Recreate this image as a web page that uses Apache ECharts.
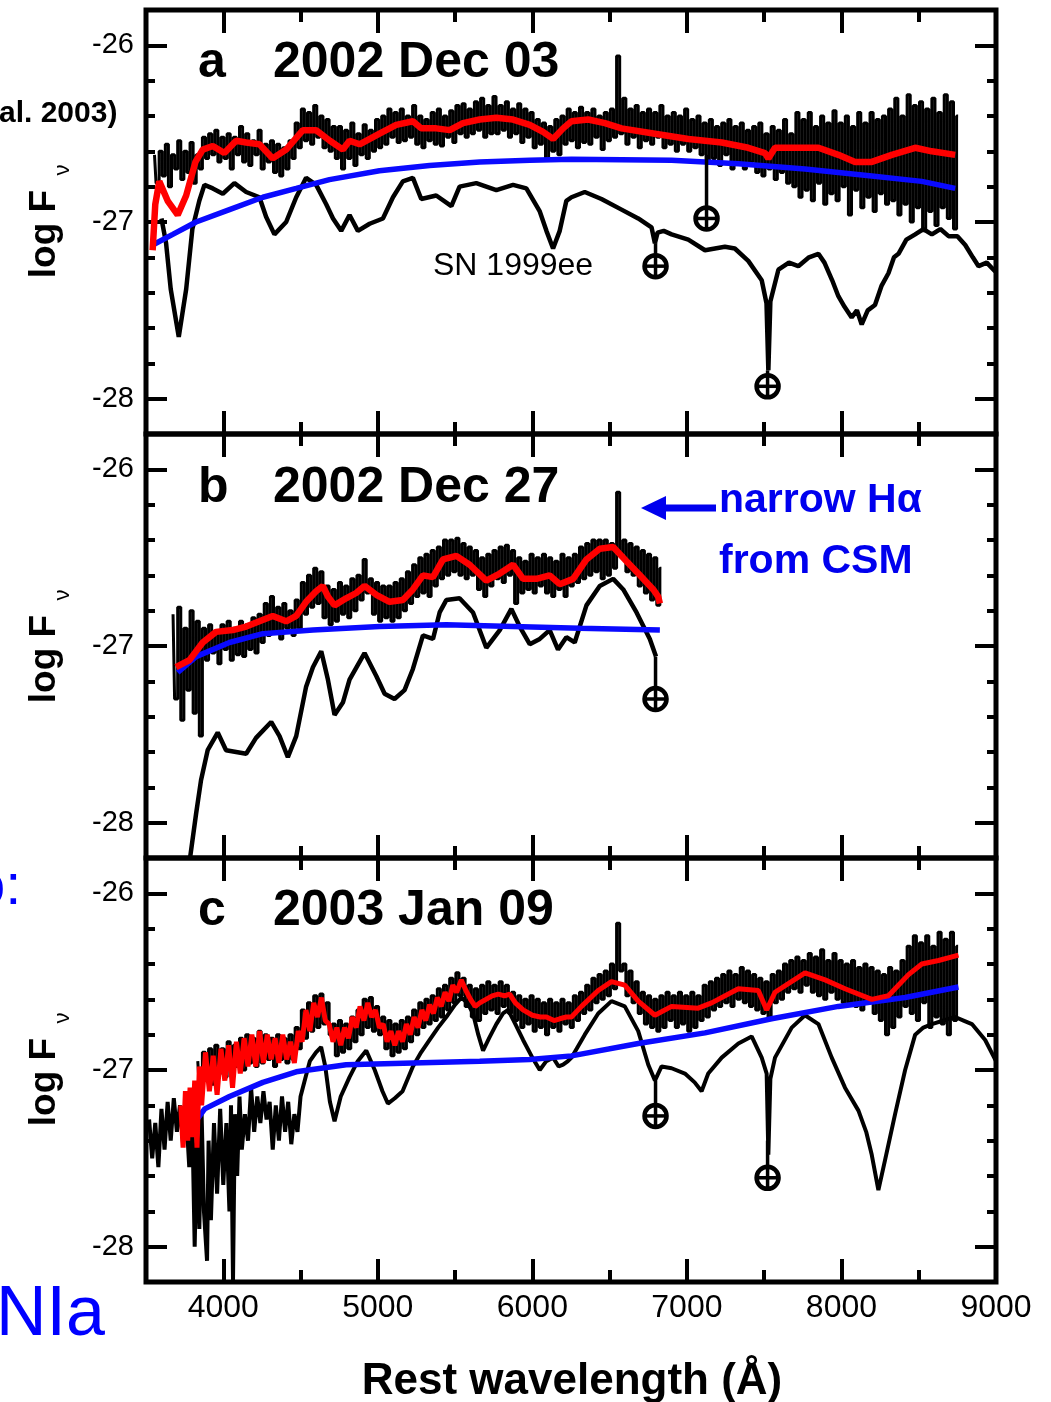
<!DOCTYPE html>
<html><head><meta charset="utf-8">
<script src="https://cdn.jsdelivr.net/npm/echarts@6/dist/echarts.min.js"></script>
<style>html,body{margin:0;padding:0;background:#fff}#c{width:1051px;height:1402px}</style>
</head><body><div id="c"></div>
<script>
// ---------- tick values ----------
const xMajor = [4000, 5000, 6000, 7000, 8000, 9000];
const xMinor = [4500, 5500, 6500, 7500, 8500];
const yMajor = [-26, -27, -28];
const yMinor = [-26.2, -26.4, -26.6, -26.8, -27.2, -27.4, -27.6, -27.8];

// ---------- panel a : 2002 Dec 03 ----------
const obsA_start = 3555, obsA_step = 20;
const obsA = [
 -26.62,-26.78,-26.60,-26.74,-26.56,-26.80,-26.62,-26.70,-26.54,-26.76,
 -26.60,-26.72,-26.55,-26.78,-26.62,-26.70,-26.52,-26.64,-26.50,-26.62,
 -26.48,-26.66,-26.52,-26.64,-26.50,-26.70,-26.52,-26.62,-26.46,-26.66,
 -26.50,-26.68,-26.54,-26.62,-26.48,-26.70,-26.56,-26.66,-26.54,-26.72,
 -26.56,-26.74,-26.58,-26.70,-26.54,-26.64,-26.44,-26.58,-26.36,-26.54,
 -26.38,-26.56,-26.34,-26.52,-26.40,-26.58,-26.42,-26.60,-26.46,-26.64,
 -26.46,-26.70,-26.48,-26.64,-26.44,-26.68,-26.50,-26.62,-26.45,-26.64,
 -26.48,-26.60,-26.42,-26.58,-26.40,-26.56,-26.36,-26.52,-26.38,-26.55,
 -26.36,-26.54,-26.40,-26.52,-26.34,-26.56,-26.40,-26.58,-26.42,-26.54,
 -26.38,-26.56,-26.36,-26.57,-26.40,-26.52,-26.37,-26.55,-26.34,-26.50,
 -26.33,-26.52,-26.36,-26.50,-26.32,-26.48,-26.30,-26.52,-26.34,-26.50,
 -26.29,-26.50,-26.34,-26.48,-26.32,-26.52,-26.36,-26.50,-26.33,-26.55,
 -26.36,-26.52,-26.38,-26.58,-26.42,-26.56,-26.44,-26.64,-26.46,-26.60,
 -26.42,-26.62,-26.40,-26.56,-26.36,-26.54,-26.38,-26.58,-26.35,-26.55,
 -26.38,-26.56,-26.36,-26.52,-26.40,-26.59,-26.38,-26.54,-26.36,-26.52,
 -26.06,-26.50,-26.30,-26.56,-26.36,-26.52,-26.34,-26.58,-26.38,-26.54,
 -26.36,-26.56,-26.38,-26.52,-26.34,-26.58,-26.40,-26.56,-26.38,-26.60,
 -26.40,-26.56,-26.36,-26.60,-26.42,-26.58,-26.40,-26.62,-26.44,-26.66,
 -26.42,-26.64,-26.46,-26.68,-26.44,-26.62,-26.42,-26.70,-26.46,-26.66,
 -26.44,-26.70,-26.48,-26.66,-26.46,-26.72,-26.44,-26.74,-26.50,-26.70,
 -26.46,-26.76,-26.48,-26.72,-26.42,-26.78,-26.50,-26.80,-26.38,-26.86,
 -26.42,-26.82,-26.38,-26.88,-26.46,-26.78,-26.40,-26.90,-26.44,-26.84,
 -26.37,-26.88,-26.44,-26.80,-26.40,-26.96,-26.46,-26.82,-26.38,-26.92,
 -26.44,-26.86,-26.38,-26.94,-26.42,-26.84,-26.40,-26.90,-26.36,-26.88,
 -26.30,-26.96,-26.40,-26.90,-26.28,-27.00,-26.34,-26.92,-26.32,-27.05,
 -26.36,-26.94,-26.30,-27.02,-26.38,-26.92,-26.28,-26.98,-26.32,-27.04,
 -26.40];
const redA = [[3543,-27.16],[3560,-26.90],[3586,-26.77],[3640,-26.88],[3705,-26.96],[3760,-26.85],[3820,-26.66],
 [3867,-26.59],[3932,-26.57],[4007,-26.61],[4083,-26.54],[4148,-26.55],[4234,-26.56],[4320,-26.64],[4407,-26.59],
 [4515,-26.48],[4600,-26.48],[4690,-26.54],[4774,-26.59],[4817,-26.54],[4882,-26.56],[5011,-26.50],[5119,-26.45],
 [5227,-26.43],[5281,-26.47],[5378,-26.47],[5465,-26.48],[5551,-26.44],[5659,-26.42],[5767,-26.41],[5875,-26.42],
 [5983,-26.45],[6069,-26.49],[6134,-26.53],[6199,-26.47],[6253,-26.43],[6361,-26.42],[6469,-26.44],[6577,-26.47],
 [6793,-26.50],[7009,-26.53],[7225,-26.55],[7397,-26.58],[7505,-26.61],[7527,-26.64],[7570,-26.58],[7656,-26.58],
 [7851,-26.58],[7980,-26.62],[8088,-26.66],[8196,-26.66],[8326,-26.62],[8477,-26.58],[8585,-26.60],[8736,-26.62]];
const blueA = [[3543,-27.13],[3673,-27.07],[3824,-27.00],[4040,-26.93],[4256,-26.86],[4472,-26.81],[4687,-26.76],
 [5011,-26.71],[5335,-26.68],[5659,-26.66],[5983,-26.65],[6253,-26.645],[6901,-26.65],[7333,-26.67],[7764,-26.70],
 [8196,-26.74],[8520,-26.77],[8736,-26.81]];
const tmplA = [[3600,-26.98],[3630,-27.12],[3660,-27.38],[3712,-27.65],[3760,-27.38],[3800,-27.04],[3845,-26.88],
 [3878,-26.79],[3932,-26.81],[3997,-26.84],[4072,-26.78],[4148,-26.83],[4234,-26.86],[4277,-26.97],[4331,-27.07],
 [4407,-27.00],[4472,-26.86],[4536,-26.75],[4601,-26.79],[4666,-26.90],[4710,-26.98],[4763,-27.05],[4817,-26.96],
 [4871,-27.05],[4947,-27.01],[5033,-26.98],[5098,-26.86],[5162,-26.77],[5227,-26.75],[5281,-26.87],[5378,-26.85],
 [5476,-26.91],[5529,-26.80],[5637,-26.78],[5767,-26.82],[5875,-26.79],[5961,-26.81],[6048,-26.94],[6091,-27.05],
 [6134,-27.15],[6177,-27.05],[6220,-26.88],[6253,-26.86],[6339,-26.83],[6447,-26.87],[6577,-26.93],[6685,-26.98],
 [6771,-27.03],[6793,-27.12],[6810,-27.06],[6850,-27.05],[6901,-27.07],[7009,-27.10],[7117,-27.16],[7246,-27.14],
 [7310,-27.15],[7397,-27.22],[7484,-27.33],[7515,-27.46],[7527,-27.84],[7540,-27.45],[7592,-27.27],[7660,-27.23],
 [7721,-27.25],[7790,-27.20],[7851,-27.18],[7890,-27.23],[7940,-27.33],[7980,-27.42],[8020,-27.48],[8066,-27.54],
 [8100,-27.50],[8131,-27.58],[8170,-27.50],[8217,-27.47],[8260,-27.36],[8304,-27.29],[8340,-27.20],[8369,-27.18],
 [8420,-27.10],[8477,-27.07],[8530,-27.04],[8585,-27.07],[8640,-27.04],[8693,-27.08],[8750,-27.08],[8801,-27.13],
 [8850,-27.20],[8887,-27.25],[8940,-27.23],[8995,-27.28]];
const tellA = [[7127,-26.62,-26.98],[6797,-27.12,-27.25],[7522,-27.84,-27.93]];

// ---------- panel b : 2002 Dec 27 ----------
const obsB_start = 3675, obsB_step = 20;
const obsB = [
 -26.82,-27.30,-26.78,-27.42,-26.90,-27.25,-26.80,-27.38,-26.86,-27.51,
 -26.90,-27.08,-26.88,-27.04,-26.92,-27.10,-26.88,-27.02,-26.86,-27.08,
 -26.90,-27.05,-26.86,-27.06,-26.88,-27.02,-26.84,-27.04,-26.82,-26.98,
 -26.76,-26.94,-26.72,-26.92,-26.78,-26.96,-26.76,-26.90,-26.80,-26.94,
 -26.74,-26.90,-26.64,-26.82,-26.60,-26.78,-26.56,-26.76,-26.58,-26.84,
 -26.66,-26.88,-26.68,-26.86,-26.64,-26.82,-26.66,-26.84,-26.62,-26.80,
 -26.60,-26.74,-26.51,-26.70,-26.62,-26.82,-26.64,-26.86,-26.66,-26.84,
 -26.66,-26.86,-26.64,-26.84,-26.62,-26.80,-26.58,-26.76,-26.54,-26.72,
 -26.50,-26.70,-26.48,-26.72,-26.46,-26.66,-26.44,-26.62,-26.40,-26.60,
 -26.40,-26.58,-26.39,-26.60,-26.42,-26.62,-26.44,-26.60,-26.46,-26.68,
 -26.50,-26.72,-26.48,-26.66,-26.46,-26.62,-26.44,-26.64,-26.43,-26.60,
 -26.46,-26.76,-26.50,-26.70,-26.52,-26.68,-26.48,-26.70,-26.50,-26.66,
 -26.48,-26.70,-26.50,-26.72,-26.52,-26.68,-26.48,-26.72,-26.50,-26.66,
 -26.48,-26.64,-26.44,-26.62,-26.42,-26.60,-26.40,-26.58,-26.40,-26.62,
 -26.40,-26.60,-26.42,-26.56,-26.13,-26.48,-26.40,-26.58,-26.42,-26.60,
 -26.44,-26.66,-26.46,-26.70,-26.48,-26.74,-26.50,-26.77,-26.56];
const redB = [[3694,-27.12],[3781,-27.08],[3867,-26.98],[3953,-26.92],[4061,-26.91],[4148,-26.89],[4234,-26.86],
 [4320,-26.83],[4407,-26.86],[4472,-26.83],[4536,-26.75],[4601,-26.69],[4644,-26.66],[4677,-26.72],[4720,-26.77],
 [4795,-26.73],[4860,-26.70],[4914,-26.66],[4990,-26.71],[5076,-26.75],[5162,-26.74],[5227,-26.68],[5292,-26.60],
 [5357,-26.61],[5422,-26.51],[5508,-26.49],[5594,-26.54],[5702,-26.63],[5789,-26.59],[5875,-26.54],[5940,-26.62],
 [6026,-26.62],[6112,-26.60],[6177,-26.65],[6264,-26.62],[6350,-26.51],[6436,-26.45],[6523,-26.44],[6609,-26.52],
 [6696,-26.60],[6782,-26.68],[6814,-26.72],[6825,-26.76]];
const blueB = [[3705,-27.15],[3824,-27.06],[4040,-26.98],[4256,-26.93],[4580,-26.91],[5011,-26.89],[5443,-26.88],
 [5875,-26.89],[6307,-26.90],[6825,-26.91]];
const tmplB = [[3785,-28.20],[3824,-27.95],[3856,-27.76],[3899,-27.59],[3964,-27.49],[4018,-27.59],[4083,-27.60],
 [4148,-27.61],[4212,-27.52],[4310,-27.43],[4364,-27.51],[4418,-27.63],[4472,-27.51],[4536,-27.23],[4580,-27.12],
 [4634,-27.03],[4677,-27.19],[4720,-27.39],[4774,-27.32],[4817,-27.19],[4914,-27.04],[4990,-27.17],[5044,-27.27],
 [5108,-27.30],[5173,-27.25],[5227,-27.13],[5292,-26.94],[5357,-26.96],[5400,-26.81],[5443,-26.74],[5529,-26.73],
 [5616,-26.81],[5702,-27.01],[5789,-26.91],[5864,-26.79],[5918,-26.89],[5983,-26.99],[6048,-26.96],[6112,-26.91],
 [6166,-27.02],[6220,-26.95],[6274,-26.98],[6350,-26.77],[6436,-26.66],[6523,-26.62],[6588,-26.68],[6674,-26.81],
 [6760,-26.96],[6800,-27.06]];
const tellB = [[6797,-27.06,-27.30]];

// ---------- panel c : 2003 Jan 09 ----------
const obsC_start = 3835, obsC_step = 20;
const obsC = [
 -26.95,-27.10,-26.90,-27.06,-26.88,-27.08,-26.86,-27.02,-26.88,-27.04,
 -26.84,-27.00,-26.86,-26.98,-26.82,-27.00,-26.80,-26.96,-26.82,-26.98,
 -26.78,-26.96,-26.80,-26.94,-26.82,-26.98,-26.80,-26.94,-26.82,-26.96,
 -26.80,-26.94,-26.76,-26.88,-26.66,-26.82,-26.62,-26.78,-26.58,-26.76,
 -26.57,-26.74,-26.62,-26.80,-26.74,-26.92,-26.72,-26.90,-26.74,-26.88,
 -26.70,-26.84,-26.66,-26.80,-26.60,-26.76,-26.59,-26.78,-26.64,-26.80,
 -26.70,-26.88,-26.72,-26.92,-26.74,-26.90,-26.72,-26.88,-26.70,-26.84,
 -26.66,-26.80,-26.62,-26.76,-26.60,-26.74,-26.58,-26.72,-26.54,-26.70,
 -26.52,-26.66,-26.48,-26.62,-26.45,-26.58,-26.48,-26.64,-26.52,-26.70,
 -26.54,-26.72,-26.52,-26.68,-26.50,-26.66,-26.52,-26.68,-26.50,-26.64,
 -26.52,-26.68,-26.56,-26.72,-26.58,-26.76,-26.60,-26.74,-26.58,-26.78,
 -26.60,-26.76,-26.62,-26.80,-26.60,-26.76,-26.62,-26.78,-26.60,-26.74,
 -26.62,-26.76,-26.58,-26.72,-26.56,-26.68,-26.52,-26.66,-26.48,-26.62,
 -26.46,-26.60,-26.44,-26.58,-26.40,-26.54,-26.17,-26.44,-26.40,-26.58,
 -26.44,-26.62,-26.50,-26.68,-26.56,-26.74,-26.58,-26.76,-26.60,-26.78,
 -26.58,-26.76,-26.56,-26.72,-26.58,-26.76,-26.56,-26.74,-26.58,-26.78,
 -26.56,-26.76,-26.58,-26.72,-26.52,-26.70,-26.50,-26.66,-26.48,-26.64,
 -26.46,-26.62,-26.44,-26.64,-26.46,-26.60,-26.42,-26.62,-26.44,-26.64,
 -26.46,-26.66,-26.48,-26.68,-26.50,-26.70,-26.46,-26.62,-26.44,-26.60,
 -26.40,-26.56,-26.38,-26.54,-26.36,-26.56,-26.38,-26.52,-26.34,-26.56,
 -26.36,-26.58,-26.32,-26.60,-26.38,-26.56,-26.34,-26.60,-26.38,-26.62,
 -26.40,-26.62,-26.38,-26.64,-26.42,-26.66,-26.40,-26.62,-26.42,-26.68,
 -26.44,-26.72,-26.46,-26.80,-26.42,-26.76,-26.44,-26.70,-26.38,-26.64,
 -26.30,-26.68,-26.24,-26.72,-26.28,-26.62,-26.24,-26.76,-26.30,-26.70,
 -26.22,-26.74,-26.26,-26.80,-26.22,-26.72,-26.30];
const redC = [[3725,-27.20],[3740,-27.44],[3755,-27.12],[3770,-27.40],[3785,-27.10],[3800,-27.38],[3815,-27.06],
 [3830,-27.44],[3845,-26.98],[3860,-27.20],[3885,-26.90],[3910,-27.12],[3935,-26.92],[3960,-27.14],[3985,-26.88],
 [4010,-27.06],[4035,-26.86],[4060,-27.10],[4085,-26.84],[4110,-27.02],[4135,-26.82],[4160,-26.98],[4185,-26.80],
 [4210,-26.98],[4235,-26.78],[4260,-26.96],[4285,-26.80],[4310,-26.94],[4335,-26.82],[4360,-26.96],[4385,-26.80],
 [4410,-26.94],[4435,-26.84],[4460,-26.96],[4485,-26.78],[4510,-26.84],[4535,-26.66],[4560,-26.78],[4585,-26.62],
 [4610,-26.70],[4635,-26.59],[4660,-26.72],[4685,-26.74],[4710,-26.84],[4735,-26.76],[4760,-26.86],[4785,-26.76],
 [4810,-26.82],[4835,-26.70],[4860,-26.76],[4885,-26.64],[4910,-26.72],[4935,-26.62],[4960,-26.70],[4985,-26.66],
 [5010,-26.76],[5035,-26.74],[5060,-26.84],[5085,-26.78],[5110,-26.86],[5135,-26.78],[5160,-26.84],[5185,-26.74],
 [5210,-26.80],[5235,-26.70],[5260,-26.76],[5285,-26.66],[5310,-26.72],[5335,-26.63],[5360,-26.68],[5385,-26.59],
 [5410,-26.64],[5435,-26.56],[5460,-26.61],[5485,-26.52],[5510,-26.56],[5540,-26.49],[5570,-26.55],[5600,-26.60],
 [5630,-26.64],[5660,-26.62],[5700,-26.60],[5740,-26.58],[5780,-26.57],[5820,-26.58],[5853,-26.57],[5890,-26.62],
 [5940,-26.66],[6000,-26.69],[6050,-26.70],[6091,-26.70],[6140,-26.72],[6177,-26.71],[6220,-26.70],[6253,-26.70],
 [6318,-26.64],[6426,-26.55],[6512,-26.50],[6598,-26.52],[6685,-26.61],[6793,-26.69],[6901,-26.64],[7073,-26.65],
 [7160,-26.62],[7333,-26.54],[7462,-26.55],[7516,-26.66],[7570,-26.56],[7764,-26.45],[7894,-26.49],[8023,-26.54],
 [8196,-26.60],[8304,-26.58],[8434,-26.46],[8520,-26.40],[8628,-26.38],[8757,-26.35]];
const blueC = [[3730,-27.35],[3830,-27.28],[3880,-27.22],[4040,-27.15],[4256,-27.07],[4472,-27.01],[4795,-26.97],
 [5227,-26.96],[5659,-26.95],[5983,-26.94],[6253,-26.92],[6685,-26.85],[7117,-26.79],[7548,-26.71],[7980,-26.64],
 [8412,-26.59],[8757,-26.53]];
const tmplC = [[3520,-27.28],[3540,-27.50],[3560,-27.30],[3580,-27.55],[3600,-27.22],[3620,-27.45],[3640,-27.18],
 [3660,-27.40],[3680,-27.16],[3700,-27.35],[3720,-27.20],[3740,-27.42],[3760,-27.25],[3780,-27.55],[3800,-27.30],
 [3815,-28.00],[3830,-27.35],[3845,-27.90],[3860,-27.25],[3875,-27.80],[3895,-28.08],[3905,-27.40],[3920,-27.85],
 [3940,-27.30],[3960,-27.70],[3980,-27.22],[4000,-27.65],[4020,-27.30],[4040,-27.80],[4050,-27.20],[4063,-28.19],
 [4075,-27.25],[4090,-27.60],[4105,-27.15],[4120,-27.45],[4140,-27.25],[4160,-27.40],[4180,-27.10],[4200,-27.35],
 [4220,-27.15],[4240,-27.30],[4260,-27.12],[4280,-27.28],[4300,-27.18],[4320,-27.45],[4340,-27.20],[4360,-27.40],
 [4380,-27.15],[4400,-27.35],[4420,-27.18],[4440,-27.42],[4460,-27.25],[4480,-27.35],[4500,-27.15],[4530,-27.05],
 [4560,-26.95],[4600,-26.90],[4633,-26.87],[4660,-26.98],[4690,-27.18],[4720,-27.29],[4760,-27.15],[4817,-27.04],
 [4870,-26.95],[4925,-26.89],[4980,-27.00],[5030,-27.12],[5065,-27.19],[5110,-27.16],[5160,-27.12],[5227,-26.98],
 [5280,-26.90],[5335,-26.83],[5390,-26.76],[5443,-26.70],[5500,-26.63],[5540,-26.59],[5580,-26.62],[5616,-26.68],
 [5650,-26.80],[5681,-26.89],[5720,-26.82],[5767,-26.74],[5810,-26.68],[5843,-26.66],[5890,-26.74],[5940,-26.83],
 [6000,-26.93],[6048,-27.00],[6090,-26.95],[6134,-26.93],[6170,-26.98],[6199,-26.97],[6230,-26.95],[6253,-26.93],
 [6339,-26.80],[6426,-26.68],[6512,-26.61],[6598,-26.64],[6685,-26.78],[6750,-26.97],[6793,-27.06],[6836,-26.98],
 [6901,-26.99],[6987,-27.02],[7050,-27.07],[7095,-27.12],[7138,-27.02],[7225,-26.93],[7333,-26.85],[7419,-26.81],
 [7484,-26.93],[7516,-27.02],[7527,-27.48],[7540,-27.05],[7570,-26.93],[7678,-26.76],[7764,-26.69],[7851,-26.74],
 [7937,-26.93],[8023,-27.10],[8110,-27.23],[8160,-27.35],[8196,-27.48],[8239,-27.68],[8282,-27.51],[8347,-27.25],
 [8412,-27.00],[8477,-26.80],[8530,-26.76],[8585,-26.74],[8660,-26.72],[8736,-26.70],[8790,-26.72],[8844,-26.74],
 [8930,-26.83],[9000,-26.95]];
const tellC = [[6797,-27.06,-27.26],[7522,-27.40,-27.61]];

// ---------- labels ----------
const panelLetters = ['a', 'b', 'c'];
const panelDates = ['2002 Dec 03', '2002 Dec 27', '2003 Jan 09'];
const yName = 'log F';
const ySub = 'ν';
const xName = 'Rest wavelength (Å)';
const templateName = 'SN 1999ee';
const haNote = ['narrow Hα', 'from CSM'];

function gridSeries(start, step, vals) {
  return vals.map((v, i) => [start + i * step, v]);
}

const FONT = '"Liberation Sans", Arial, Helvetica, sans-serif';
const gridTops = [10, 434, 858];
const grids = gridTops.map(t => ({left: 146, top: t, width: 850, height: 424, show: true,
  borderColor: '#000', borderWidth: 5, backgroundColor: 'transparent'}));

const xAxes = [], yAxes = [];
gridTops.forEach((t, gi) => {
  const last = gi === 2;
  const base = {gridIndex: gi, type: 'value', min: 3500, max: 9000, splitLine: {show: false},
    axisLine: {show: false, onZero: false}};
  xAxes.push(Object.assign({}, base, {position: 'bottom',
    axisTick: {show: true, inside: true, length: 23, customValues: xMajor, lineStyle: {color: '#000', width: 4}},
    axisLabel: {show: last, customValues: xMajor, color: '#000', fontSize: 32, fontFamily: FONT, margin: 10,
      formatter: v => String(v)}}));
  xAxes.push(Object.assign({}, base, {position: 'bottom',
    axisTick: {show: true, inside: true, length: 12, customValues: xMinor, lineStyle: {color: '#000', width: 4}},
    axisLabel: {show: false}}));
  xAxes.push(Object.assign({}, base, {position: 'top',
    axisTick: {show: true, inside: true, length: 23, customValues: xMajor, lineStyle: {color: '#000', width: 4}},
    axisLabel: {show: false}}));
  xAxes.push(Object.assign({}, base, {position: 'top',
    axisTick: {show: true, inside: true, length: 12, customValues: xMinor, lineStyle: {color: '#000', width: 4}},
    axisLabel: {show: false}}));
  const ybase = {gridIndex: gi, type: 'value', min: -28.2, max: -25.8, splitLine: {show: false},
    axisLine: {show: false, onZero: false}};
  yAxes.push(Object.assign({}, ybase, {position: 'left',
    axisTick: {show: true, inside: true, length: 21, customValues: yMajor, lineStyle: {color: '#000', width: 4}},
    axisLabel: {show: true, customValues: yMajor, color: '#000', fontSize: 29, fontFamily: FONT, margin: 12,
      formatter: v => String(v)}}));
  yAxes.push(Object.assign({}, ybase, {position: 'left',
    axisTick: {show: true, inside: true, length: 9, customValues: yMinor, lineStyle: {color: '#000', width: 4}},
    axisLabel: {show: false}}));
  yAxes.push(Object.assign({}, ybase, {position: 'right',
    axisTick: {show: true, inside: true, length: 21, customValues: yMajor, lineStyle: {color: '#000', width: 4}},
    axisLabel: {show: false}}));
  yAxes.push(Object.assign({}, ybase, {position: 'right',
    axisTick: {show: true, inside: true, length: 9, customValues: yMinor, lineStyle: {color: '#000', width: 4}},
    axisLabel: {show: false}}));
});

function line(gi, data, color, width, step) {
  return {type: 'line', xAxisIndex: gi * 4, yAxisIndex: gi * 4, data: data, showSymbol: false, symbol: 'none',
    step: step || false, lineStyle: {color: color, width: width}, animation: false, silent: true, clip: true, z: 3};
}
function telluric(gi, data) {
  return {type: 'custom', xAxisIndex: gi * 4, yAxisIndex: gi * 4, data: data, animation: false, silent: true, z: 4,
    renderItem: function (params, api) {
      const top = api.coord([api.value(0), api.value(1)]);
      const c = api.coord([api.value(0), api.value(2)]);
      const r = 11;
      return {type: 'group', children: [
        {type: 'line', shape: {x1: c[0], y1: top[1], x2: c[0], y2: c[1] - r}, style: {stroke: '#000', lineWidth: 3.5}},
        {type: 'circle', shape: {cx: c[0], cy: c[1], r: r}, style: {fill: '#fff', stroke: '#000', lineWidth: 4.5}},
        {type: 'line', shape: {x1: c[0] - r, y1: c[1], x2: c[0] + r, y2: c[1]}, style: {stroke: '#000', lineWidth: 3.5}},
        {type: 'line', shape: {x1: c[0], y1: c[1] - r, x2: c[0], y2: c[1] + r}, style: {stroke: '#000', lineWidth: 3.5}}
      ]};
    }};
}

const BLUE = '#0a0aff', RED = '#ff0000';
const series = [
  line(0, gridSeries(obsA_start, obsA_step, obsA), '#000', 3, 'middle'),
  line(0, tmplA, '#000', 4.5),
  line(0, blueA, BLUE, 5.5),
  line(0, redA, RED, 6.5),
  telluric(0, tellA),
  line(1, gridSeries(obsB_start, obsB_step, obsB), '#000', 3, 'middle'),
  line(1, tmplB, '#000', 4.5),
  line(1, blueB, BLUE, 5.5),
  line(1, redB, RED, 6.5),
  telluric(1, tellB),
  line(2, gridSeries(obsC_start, obsC_step, obsC), '#000', 3, 'middle'),
  line(2, tmplC, '#000', 4),
  line(2, blueC, BLUE, 5.5),
  line(2, redC, RED, 5),
  telluric(2, tellC)
];

const graphics = [];
const titleY = [63, 488, 911];
titleY.forEach((y, i) => {
  graphics.push({type: 'text', x: 198, y: y, style: {text: panelLetters[i], font: 'bold 50px ' + FONT, fill: '#000', verticalAlign: 'middle'}});
  graphics.push({type: 'text', x: 273, y: y, style: {text: panelDates[i], font: 'bold 50px ' + FONT, fill: '#000', verticalAlign: 'middle'}});
  const yc = [222, 647, 1070][i];
  graphics.push({type: 'text', x: 45, y: yc + 12, rotation: Math.PI / 2, style: {text: yName, font: 'bold 37px ' + FONT, fill: '#000', align: 'center', verticalAlign: 'middle'}});
  graphics.push({type: 'text', x: 63, y: yc - 52, rotation: Math.PI / 2, style: {text: ySub, font: '22px ' + FONT, fill: '#000', align: 'center', verticalAlign: 'middle'}});
});
graphics.push({type: 'text', x: 433, y: 266, style: {text: templateName, font: '32px ' + FONT, fill: '#000', verticalAlign: 'middle'}});
graphics.push({type: 'text', x: 572, y: 1382, style: {text: xName, font: 'bold 44px ' + FONT, fill: '#000', align: 'center', verticalAlign: 'middle'}});
graphics.push({type: 'text', x: 719, y: 501, style: {text: haNote[0], font: 'bold 41px ' + FONT, fill: '#0000ee', verticalAlign: 'middle', textShadowColor: 'rgba(0,0,0,0.25)', textShadowOffsetX: 2, textShadowOffsetY: 2}});
graphics.push({type: 'text', x: 719, y: 562, style: {text: haNote[1], font: 'bold 41px ' + FONT, fill: '#0000ee', verticalAlign: 'middle', textShadowColor: 'rgba(0,0,0,0.25)', textShadowOffsetX: 2, textShadowOffsetY: 2}});
graphics.push({type: 'line', shape: {x1: 662, y1: 508, x2: 716, y2: 508}, style: {stroke: '#0000ee', lineWidth: 7}});
graphics.push({type: 'polygon', shape: {points: [[641, 508], [666, 496], [666, 520]]}, style: {fill: '#0000ee'}});
graphics.push({type: 'text', x: -1, y: 114, style: {text: 'al. 2003)', font: 'bold 30px ' + FONT, fill: '#000', verticalAlign: 'middle'}});
graphics.push({type: 'text', x: -27, y: 888, style: {text: 'o:', font: '58px ' + FONT, fill: '#0000ff', verticalAlign: 'middle'}});
graphics.push({type: 'text', x: -4, y: 1316, style: {text: 'NIa', font: '70px ' + FONT, fill: '#0000ff', verticalAlign: 'middle'}});

const chart = echarts.init(document.getElementById('c'), null, {renderer: 'canvas'});
chart.setOption({
  animation: false,
  backgroundColor: '#fff',
  grid: grids,
  xAxis: xAxes,
  yAxis: yAxes,
  series: series,
  graphic: {elements: graphics}
});
</script></body></html>
